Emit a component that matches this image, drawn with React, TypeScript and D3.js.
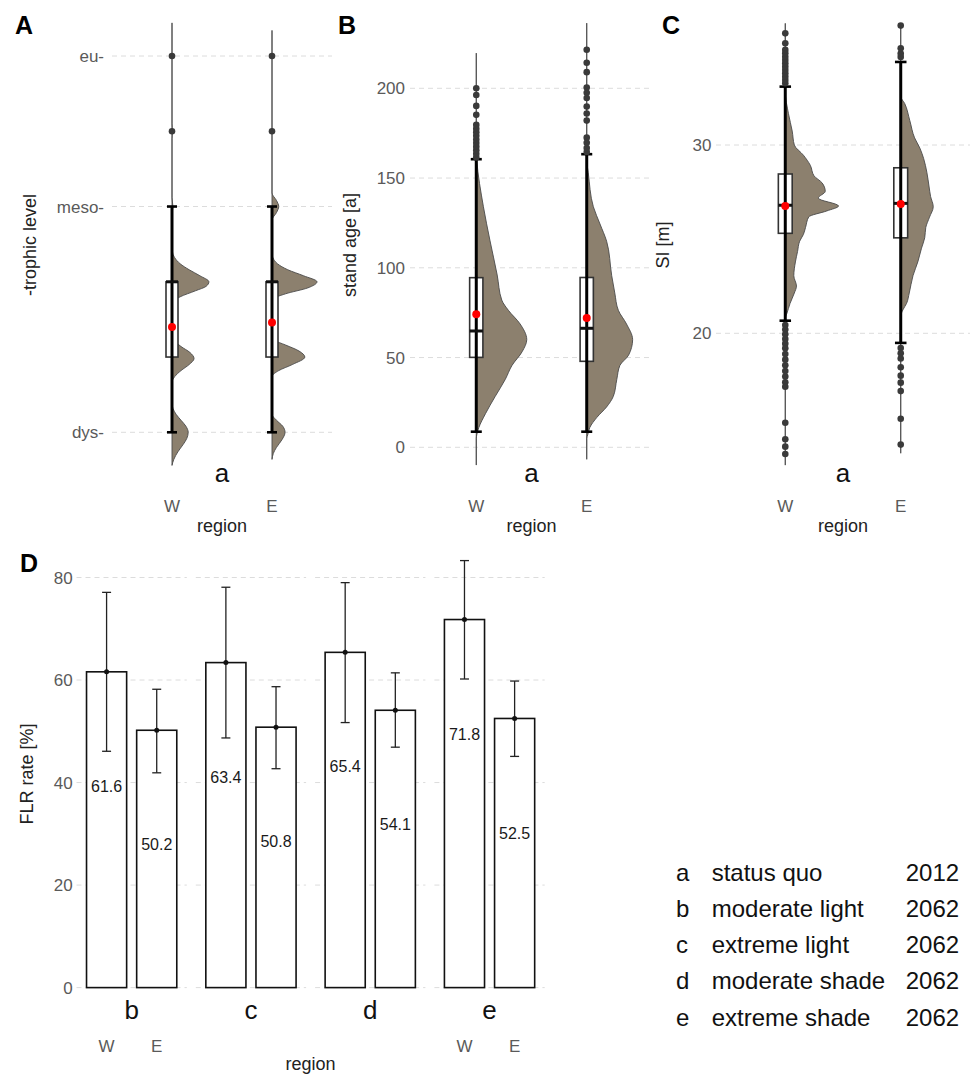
import { useEffect, useRef } from 'react';
import * as d3 from 'd3';

const FONT = '"Liberation Sans", Arial, Helvetica, sans-serif';
const VIOLIN_FILL = '#8c806e';
const GRID = '#dcdcdc';
const TICK_TEXT = '#5a5a5a';

type Dens = [number, number][];
interface BoxStat { region: string; lo: number; q1: number; med: number; q3: number; hi: number; mean: number }

const regions = ['W', 'E'];

// ---- A: trophic level ----
const trophicLabels = ['dys-', 'meso-', 'eu-'];
const trophicValues = [1, 2.5, 3.5];
const trophicBoxes: BoxStat[] = [
  { region: 'W', lo: 1.0, q1: 1.5, med: 2.0, q3: 2.0, hi: 2.5, mean: 1.70 },
  { region: 'E', lo: 1.0, q1: 1.5, med: 2.0, q3: 2.0, hi: 2.5, mean: 1.73 },
];
const trophicOutliersW = [3.0, 3.5];
const trophicOutliersE = [3.0, 3.5];
const trophicDensityW: Dens = [
  [0.78, 0], [0.82, 0.04], [0.87, 0.13], [0.92, 0.25], [0.96, 0.33], [1.0, 0.36], [1.04, 0.31], [1.08, 0.2], [1.12, 0.09], [1.16, 0.02], [1.2, 0],
  [1.33, 0], [1.37, 0.06], [1.41, 0.2], [1.45, 0.38], [1.49, 0.49], [1.53, 0.4], [1.57, 0.2], [1.61, 0.05], [1.64, 0],
  [1.86, 0], [1.9, 0.18], [1.94, 0.52], [1.97, 0.76], [2.0, 0.82], [2.04, 0.62], [2.08, 0.38], [2.12, 0.18], [2.16, 0.06], [2.2, 0.01], [2.24, 0],
  [2.44, 0], [2.5, 0.02], [2.56, 0], [2.95, 0], [3.0, 0.01], [3.05, 0], [3.72, 0],
];
const trophicDensityE: Dens = [
  [0.82, 0], [0.86, 0.03], [0.9, 0.1], [0.95, 0.22], [1.0, 0.29], [1.04, 0.24], [1.08, 0.1], [1.12, 0],
  [1.37, 0], [1.41, 0.15], [1.45, 0.45], [1.5, 0.73], [1.54, 0.6], [1.58, 0.3], [1.61, 0.06], [1.63, 0],
  [1.88, 0], [1.92, 0.3], [1.96, 0.8], [2.0, 1.0], [2.04, 0.7], [2.08, 0.35], [2.12, 0.12], [2.16, 0.02], [2.19, 0],
  [2.41, 0], [2.46, 0.1], [2.5, 0.15], [2.54, 0.1], [2.59, 0], [3.67, 0],
];

// ---- B: stand age ----
const ageTicks = [0, 50, 100, 150, 200];
const ageBoxes: BoxStat[] = [
  { region: 'W', lo: 8.7, q1: 50.1, med: 64.8, q3: 94.5, hi: 160.5, mean: 74.1 },
  { region: 'E', lo: 8.7, q1: 47.9, med: 66.3, q3: 94.6, hi: 163.3, mean: 72.1 },
];
const ageOutliersW = [161.5, 163.5, 165.5, 167.5, 169.5, 171.5, 173.5, 175.5, 177.5, 179.6, 185.2, 190.2, 196.3, 200];
const ageOutliersE = [164.5, 166.7, 169.6, 172.5, 182, 186, 189.8, 194.6, 197.5, 200.4, 209, 214.2, 221.5];
const ageDensityW: Dens = [
  [-9.9, 0], [5, 0], [7, 0.01], [11, 0.05], [18.7, 0.18], [28.3, 0.37], [37.9, 0.57], [45.6, 0.7], [53.3, 0.9], [60, 0.99],
  [68.7, 0.86], [76.3, 0.63], [82, 0.5], [96, 0.41], [115, 0.27], [134, 0.14], [160, 0.01], [165, 0], [219.6, 0],
];
const ageDensityE: Dens = [
  [-6.7, 0], [5, 0], [7, 0.02], [11, 0.06], [16.7, 0.2], [22.5, 0.39], [28.3, 0.52], [37.9, 0.59], [45.6, 0.65], [51.3, 0.82],
  [60, 0.9], [68.7, 0.78], [76.3, 0.62], [86, 0.55], [95.6, 0.49], [114.8, 0.39], [124.4, 0.26], [134, 0.13], [153, 0.03], [160, 0], [236.3, 0],
];

// ---- C: site index ----
const siTicks = [20, 30];
const siBoxes: BoxStat[] = [
  { region: 'W', lo: 20.67, q1: 25.31, med: 26.8, q3: 28.46, hi: 33.1, mean: 26.76 },
  { region: 'E', lo: 19.49, q1: 25.07, med: 26.9, q3: 28.79, hi: 34.41, mean: 26.87 },
];
const siOutliersW = [
  33.28, 33.45, 33.63, 33.81, 33.98, 34.16, 34.34, 34.51, 34.69, 34.87, 35.05, 35.4, 35.93,
  20.44, 20.2, 19.95, 19.7, 19.45, 19.2, 18.9, 18.6, 18.3, 18.0, 17.7, 17.4, 17.16, 15.25, 14.37, 13.98, 13.59,
];
const siOutliersE = [34.68, 34.86, 35.14, 36.34, 19.22, 18.94, 18.66, 18.2, 17.75, 17.38, 16.93, 15.46, 14.09];
const siDensityW: Dens = [
  [13.0, 0], [20.8, 0], [21.05, 0.03], [21.59, 0.09], [22.14, 0.17], [22.51, 0.21], [23.06, 0.16], [23.79, 0.19], [24.34, 0.23],
  [24.89, 0.27], [25.25, 0.34], [25.62, 0.38], [26.18, 0.44], [26.5, 0.78], [26.76, 1.0], [27.18, 0.62], [27.54, 0.75],
  [27.99, 0.69], [28.36, 0.54], [28.92, 0.47], [29.46, 0.34], [30.0, 0.17], [30.74, 0.13], [31.66, 0.06], [32.85, 0], [36.46, 0],
];
const siDensityE: Dens = [
  [13.63, 0], [20.9, 0], [21.24, 0.04], [21.59, 0.11], [22.14, 0.16], [23.06, 0.23], [23.79, 0.32], [24.52, 0.39], [25.07, 0.45],
  [25.62, 0.47], [26.17, 0.54], [26.72, 0.61], [27.27, 0.56], [27.82, 0.53], [28.55, 0.49], [29.28, 0.43], [29.83, 0.36],
  [30.38, 0.26], [31.3, 0.17], [32.2, 0.075], [32.58, 0], [36.33, 0],
];

// ---- D: FLR rate ----
const scenarios = ['b', 'c', 'd', 'e'];
const flrTicks = [0, 20, 40, 60, 80];
const flrMeanW = [61.6, 63.4, 65.4, 71.8];
const flrMeanE = [50.2, 50.8, 54.1, 52.5];
const flrLowW = [46.1, 48.7, 51.7, 60.2];
const flrHighW = [77.1, 78.1, 79.0, 83.3];
const flrLowE = [41.9, 42.7, 46.9, 45.1];
const flrHighE = [58.2, 58.7, 61.4, 59.8];
const flrLabelledFacets = ['b', 'e'];

// ---- legend ----
const legendKeys = ['a', 'b', 'c', 'd', 'e'];
const legendNames = ['status quo', 'moderate light', 'extreme light', 'moderate shade', 'extreme shade'];
const legendYears = ['2012', '2062', '2062', '2062', '2062'];

interface ViolinPanel {
  letter: string; letterX: number;
  title: string; titleX: number;
  x0: number; x1: number;
  yDomain: [number, number]; yRange: [number, number];
  ticks: number[]; tickLabels: string[]; tickRight: number;
  boxes: BoxStat[];
  outliers: Record<string, number[]>;
  density: Record<string, Dens>;
  maxWidth: number;
}

const panels: ViolinPanel[] = [
  {
    letter: 'A', letterX: 15, title: '-trophic level', titleX: 30, x0: 112, x1: 332,
    yDomain: [1, 3.5], yRange: [432.3, 56], ticks: trophicValues, tickLabels: trophicLabels, tickRight: 104,
    boxes: trophicBoxes, outliers: { W: trophicOutliersW, E: trophicOutliersE },
    density: { W: trophicDensityW, E: trophicDensityE }, maxWidth: 45,
  },
  {
    letter: 'B', letterX: 338, title: 'stand age [a]', titleX: 350, x0: 410, x1: 653,
    yDomain: [0, 200], yRange: [447.3, 88.3], ticks: ageTicks, tickLabels: ageTicks.map(String), tickRight: 405,
    boxes: ageBoxes, outliers: { W: ageOutliersW, E: ageOutliersE },
    density: { W: ageDensityW, E: ageDensityE }, maxWidth: 51,
  },
  {
    letter: 'C', letterX: 662, title: 'SI [m]', titleX: 663, x0: 716, x1: 970,
    yDomain: [20, 30], yRange: [333.3, 145], ticks: siTicks, tickLabels: siTicks.map(String), tickRight: 711.5,
    boxes: siBoxes, outliers: { W: siOutliersW, E: siOutliersE },
    density: { W: siDensityW, E: siDensityE }, maxWidth: 53.3,
  },
];

type G = d3.Selection<SVGGElement, unknown, null, undefined>;

function drawViolinPanel(root: G, p: ViolinPanel) {
  const g = root.append('g');
  const x = d3.scalePoint<string>().domain(regions).range([p.x0, p.x1]).padding(0.6);
  const y = d3.scaleLinear().domain(p.yDomain).range(p.yRange);
  const w = d3.scaleLinear().domain([0, 1]).range([0, p.maxWidth]);
  const step = x.step();
  const boxW = step * 0.12;
  const capW = step * 0.1;

  // grid
  g.selectAll('.grid').data(p.ticks).enter().append('line')
    .attr('x1', p.x0).attr('x2', p.x1)
    .attr('y1', (d) => y(d)).attr('y2', (d) => y(d))
    .attr('stroke', GRID).attr('stroke-width', 1).attr('stroke-dasharray', '5,4');

  // y tick labels
  g.selectAll('.ytick').data(p.ticks).enter().append('text')
    .attr('x', p.tickRight).attr('y', (d) => y(d)).attr('dy', '0.36em')
    .attr('text-anchor', 'end').attr('font-size', 17).attr('fill', TICK_TEXT)
    .text((_, i) => p.tickLabels[i]);

  regions.forEach((r) => {
    const cx = x(r) ?? 0;
    const pts = [...p.density[r]].reverse();
    const edge = d3.line<[number, number]>()
      .x((d) => cx + w(d[1]))
      .y((d) => y(d[0]))
      .curve(d3.curveMonotoneY)(pts);
    const yTop = y(pts[0][0]);
    const yBot = y(pts[pts.length - 1][0]);
    g.append('path')
      .attr('d', `${edge}L${cx},${yBot}L${cx},${yTop}Z`)
      .attr('fill', VIOLIN_FILL).attr('stroke', '#4a4a4a').attr('stroke-width', 0.9);

    const b = p.boxes.find((d) => d.region === r)!;
    g.append('rect')
      .attr('x', cx - boxW / 2).attr('y', y(b.q3))
      .attr('width', boxW).attr('height', y(b.q1) - y(b.q3))
      .attr('fill', '#fff').attr('stroke', '#333').attr('stroke-width', 1.6);
    g.append('line')
      .attr('x1', cx).attr('x2', cx).attr('y1', y(b.lo)).attr('y2', y(b.hi))
      .attr('stroke', '#000').attr('stroke-width', 3);
    [b.lo, b.hi].forEach((v) => {
      g.append('line')
        .attr('x1', cx - capW / 2).attr('x2', cx + capW / 2).attr('y1', y(v)).attr('y2', y(v))
        .attr('stroke', '#000').attr('stroke-width', 2.6);
    });
    g.append('line')
      .attr('x1', cx - boxW / 2).attr('x2', cx + boxW / 2).attr('y1', y(b.med)).attr('y2', y(b.med))
      .attr('stroke', '#111').attr('stroke-width', 3);

    g.selectAll(`.out-${r}`).data(p.outliers[r]).enter().append('circle')
      .attr('cx', cx).attr('cy', (d) => y(d)).attr('r', 3.3).attr('fill', '#3a3a3a');

    g.append('circle').attr('cx', cx).attr('cy', y(b.mean)).attr('r', 4).attr('fill', '#ff0000');

    g.append('text').attr('x', cx).attr('y', 512.3).attr('text-anchor', 'middle')
      .attr('font-size', 17).attr('fill', TICK_TEXT).text(r);
  });

  const mid = (p.x0 + p.x1) / 2;
  g.append('text').attr('x', mid).attr('y', 482).attr('text-anchor', 'middle')
    .attr('font-size', 26).attr('fill', '#111').text('a');
  g.append('text').attr('x', mid).attr('y', 532).attr('text-anchor', 'middle')
    .attr('font-size', 18).attr('fill', '#222').text('region');
  g.append('text')
    .attr('transform', `translate(${p.titleX},245) rotate(-90)`)
    .attr('text-anchor', 'middle').attr('dominant-baseline', 'central')
    .attr('font-size', 18).attr('fill', '#222').text(p.title);
  g.append('text').attr('x', p.letterX).attr('y', 34)
    .attr('font-size', 25).attr('font-weight', 'bold').attr('fill', '#000').text(p.letter);
}

function drawBarPanel(root: G) {
  const g = root.append('g');
  const facet = d3.scaleBand<string>().domain(scenarios).range([76.5, 544.7]).paddingInner(0.0754);
  const y = d3.scaleLinear().domain([0, 80]).range([987.6, 577.5]);
  const labelDrop = 22.3;

  scenarios.forEach((s, i) => {
    const f0 = facet(s) ?? 0;
    const f1 = f0 + facet.bandwidth();
    const x = d3.scalePoint<string>().domain(regions).range([f0, f1]).padding(0.6);
    const bw = x.step() * 0.8;

    g.selectAll(`.grid-${s}`).data(flrTicks).enter().append('line')
      .attr('x1', f0).attr('x2', f1)
      .attr('y1', (d) => y(d)).attr('y2', (d) => y(d))
      .attr('stroke', GRID).attr('stroke-dasharray', '5,4');

    const rows = [
      { r: 'W', m: flrMeanW[i], lo: flrLowW[i], hi: flrHighW[i] },
      { r: 'E', m: flrMeanE[i], lo: flrLowE[i], hi: flrHighE[i] },
    ];

    rows.forEach((d) => {
      const cx = x(d.r) ?? 0;
      g.append('rect')
        .attr('x', cx - bw / 2).attr('y', y(d.m))
        .attr('width', bw).attr('height', y(0) - y(d.m))
        .attr('fill', '#fff').attr('stroke', '#111').attr('stroke-width', 1.6);
      g.append('line').attr('x1', cx).attr('x2', cx).attr('y1', y(d.lo)).attr('y2', y(d.hi))
        .attr('stroke', '#222').attr('stroke-width', 1.3);
      [d.lo, d.hi].forEach((v) => {
        g.append('line').attr('x1', cx - 4.5).attr('x2', cx + 4.5).attr('y1', y(v)).attr('y2', y(v))
          .attr('stroke', '#222').attr('stroke-width', 1.3);
      });
      g.append('circle').attr('cx', cx).attr('cy', y(d.m)).attr('r', 2.5).attr('fill', '#111');
      g.append('text').attr('x', cx).attr('y', y(d.m - labelDrop)).attr('dy', '0.36em')
        .attr('text-anchor', 'middle').attr('font-size', 16).attr('fill', '#1a1a1a')
        .text(d.m.toFixed(1));
      if (flrLabelledFacets.includes(s)) {
        g.append('text').attr('x', cx).attr('y', 1052).attr('text-anchor', 'middle')
          .attr('font-size', 17).attr('fill', TICK_TEXT).text(d.r);
      }
    });

    g.append('text').attr('x', (f0 + f1) / 2).attr('y', 1019.4).attr('text-anchor', 'middle')
      .attr('font-size', 26).attr('fill', '#111').text(s);
  });

  g.selectAll('.ytick').data(flrTicks).enter().append('text')
    .attr('x', 72.7).attr('y', (d) => y(d)).attr('dy', '0.36em')
    .attr('text-anchor', 'end').attr('font-size', 17).attr('fill', TICK_TEXT).text((d) => String(d));

  g.append('text').attr('x', 310.6).attr('y', 1069.5).attr('text-anchor', 'middle')
    .attr('font-size', 18).attr('fill', '#222').text('region');
  g.append('text')
    .attr('transform', 'translate(27,774) rotate(-90)')
    .attr('text-anchor', 'middle').attr('dominant-baseline', 'central')
    .attr('font-size', 18).attr('fill', '#222').text('FLR rate [%]');
  g.append('text').attr('x', 20).attr('y', 572.4)
    .attr('font-size', 25).attr('font-weight', 'bold').attr('fill', '#000').text('D');
}

function drawLegend(root: G) {
  const g = root.append('g').attr('font-size', 24).attr('fill', '#111');
  const rowY = d3.scalePoint<string>().domain(legendKeys).range([881, 1025.6]);
  legendKeys.forEach((k, i) => {
    const yy = rowY(k) ?? 0;
    g.append('text').attr('x', 676).attr('y', yy).text(k);
    g.append('text').attr('x', 711.7).attr('y', yy).text(legendNames[i]);
    g.append('text').attr('x', 905.7).attr('y', yy).text(legendYears[i]);
  });
}

export default function App() {
  const svgRef = useRef<SVGSVGElement>(null);

  useEffect(() => {
    if (!svgRef.current) return;
    const svg = d3.select(svgRef.current);
    svg.selectAll('*').remove();
    const root = svg.append('g').attr('font-family', FONT);
    root.append('rect').attr('width', 976).attr('height', 1075).attr('fill', '#fff');
    panels.forEach((p) => drawViolinPanel(root, p));
    drawBarPanel(root);
    drawLegend(root);
  }, []);

  return (
    <div style={{ position: 'absolute', left: 0, top: 0 }}>
      <svg ref={svgRef} width={976} height={1075} style={{ display: 'block' }} />
    </div>
  );
}
